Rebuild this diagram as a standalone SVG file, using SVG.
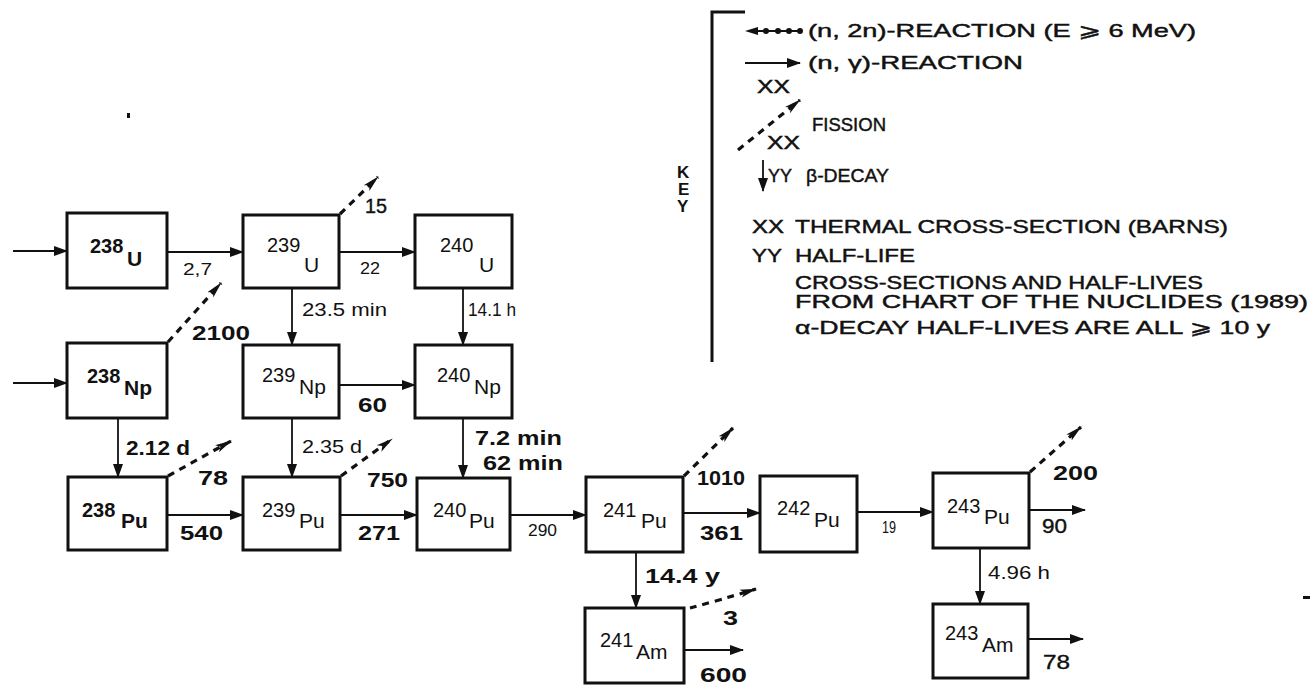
<svg xmlns="http://www.w3.org/2000/svg" width="1314" height="691" viewBox="0 0 1314 691">
<defs>
<marker id="ah" markerUnits="userSpaceOnUse" markerWidth="14" markerHeight="10" refX="13" refY="5" orient="auto"><path d="M0,0 L14,5 L0,10 z" fill="#111"/></marker>
<marker id="fh" markerUnits="userSpaceOnUse" markerWidth="18" markerHeight="10" refX="16" refY="5" orient="auto"><path d="M0,1 L17,5 L0,9 L4,5 z" fill="#111"/></marker>
<style>
text{font-family:"Liberation Sans","DejaVu Sans",Arial,sans-serif;fill:#111}
.box{fill:#fff;stroke:#111;stroke-width:3}
.c{stroke:#111;stroke-width:1.8;fill:none;marker-end:url(#ah)}
.f{stroke:#111;stroke-width:3.2;stroke-dasharray:7 6;fill:none;marker-end:url(#fh)}
.num{font-size:20px}
.el{font-size:21px}
.s{font-size:16px}
.b{font-size:20px;font-weight:bold}
.r{font-size:20px;font-weight:normal;stroke:#111;stroke-width:0.4}
.m{font-size:18px}
.k{font-size:19px;stroke:#111;stroke-width:0.45}
</style>
</defs>
<rect width="1314" height="691" fill="#fff"/>

<g id="connectors">
<line class="c" x1="13" y1="251" x2="67" y2="251"/>
<line class="c" x1="13" y1="383" x2="67" y2="383"/>
<line class="c" x1="167" y1="252" x2="243" y2="252"/>
<line class="c" x1="339" y1="252" x2="415" y2="252"/>
<line class="c" x1="292" y1="288" x2="292" y2="345"/>
<line class="c" x1="463" y1="288" x2="463" y2="345"/>
<line class="c" x1="339" y1="385" x2="415" y2="385"/>
<line class="c" x1="118" y1="418" x2="118" y2="477"/>
<line class="c" x1="292" y1="418" x2="292" y2="477"/>
<line class="c" x1="463" y1="418" x2="463" y2="478"/>
<line class="c" x1="167" y1="515" x2="243" y2="515"/>
<line class="c" x1="340" y1="515" x2="417" y2="515"/>
<line class="c" x1="510" y1="515" x2="586" y2="515"/>
<line class="c" x1="683" y1="513" x2="760" y2="513"/>
<line class="c" x1="857" y1="512" x2="933" y2="512"/>
<line class="c" x1="1029" y1="510" x2="1085" y2="510"/>
<line class="c" x1="636" y1="552" x2="636" y2="608"/>
<line class="c" x1="980" y1="548" x2="980" y2="604"/>
<line class="c" x1="684" y1="650" x2="743" y2="650"/>
<line class="c" x1="1028" y1="639" x2="1083" y2="639"/>
<line class="f" x1="340" y1="214" x2="378" y2="177"/>
<line class="f" x1="168" y1="342" x2="221" y2="283"/>
<line class="f" x1="168" y1="476" x2="231" y2="441"/>
<line class="f" x1="341" y1="476" x2="392" y2="439"/>
<line class="f" x1="684" y1="476" x2="733" y2="428"/>
<line class="f" x1="1030" y1="472" x2="1081" y2="427"/>
<path class="f" d="M690,608 Q720,600 756,589"/>
<text class="s" x="183" y="275" textLength="29" lengthAdjust="spacingAndGlyphs">2,7</text>
<text class="r" x="365" y="213" textLength="22" lengthAdjust="spacingAndGlyphs">15</text>
<text class="s" x="360" y="274" textLength="20" lengthAdjust="spacingAndGlyphs">22</text>
<text class="m" x="302" y="316" textLength="85" lengthAdjust="spacingAndGlyphs">23.5 min</text>
<text class="m" x="468" y="316" textLength="48" lengthAdjust="spacingAndGlyphs">14.1 h</text>
<text class="b" x="192" y="340" textLength="58" lengthAdjust="spacingAndGlyphs">2100</text>
<text class="b" x="358" y="412" textLength="29" lengthAdjust="spacingAndGlyphs">60</text>
<text class="b" x="126" y="455" textLength="64" lengthAdjust="spacingAndGlyphs">2.12 d</text>
<text class="b" x="198" y="485" textLength="30" lengthAdjust="spacingAndGlyphs">78</text>
<text class="b" x="180" y="540" textLength="43" lengthAdjust="spacingAndGlyphs">540</text>
<text class="m" x="302" y="453" textLength="60" lengthAdjust="spacingAndGlyphs">2.35 d</text>
<text class="b" x="367" y="487" textLength="41" lengthAdjust="spacingAndGlyphs">750</text>
<text class="b" x="358" y="540" textLength="42" lengthAdjust="spacingAndGlyphs">271</text>
<text class="b" x="475" y="445" textLength="87" lengthAdjust="spacingAndGlyphs">7.2 min</text>
<text class="b" x="483" y="470" textLength="80" lengthAdjust="spacingAndGlyphs">62 min</text>
<text class="s" x="528" y="536" textLength="29" lengthAdjust="spacingAndGlyphs">290</text>
<text class="b" x="697" y="485" textLength="48" lengthAdjust="spacingAndGlyphs">1010</text>
<text class="b" x="700" y="540" textLength="43" lengthAdjust="spacingAndGlyphs">361</text>
<text class="s" x="882" y="533" textLength="14" lengthAdjust="spacingAndGlyphs">19</text>
<text class="b" x="1053" y="480" textLength="45" lengthAdjust="spacingAndGlyphs">200</text>
<text class="r" x="1042" y="533" textLength="25" lengthAdjust="spacingAndGlyphs">90</text>
<text class="b" x="645" y="583" textLength="75" lengthAdjust="spacingAndGlyphs">14.4 y</text>
<text class="b" x="723" y="625" textLength="15" lengthAdjust="spacingAndGlyphs">3</text>
<text class="b" x="700" y="682" textLength="47" lengthAdjust="spacingAndGlyphs">600</text>
<text class="m" x="988" y="579" textLength="62" lengthAdjust="spacingAndGlyphs">4.96 h</text>
<text class="r" x="1043" y="669" textLength="27" lengthAdjust="spacingAndGlyphs">78</text>
</g>

<g id="U238"><rect class="box" x="67" y="213" width="100" height="75"/><text class="num" x="90" y="253" font-weight="bold">238</text><text class="el" x="127" y="266" font-weight="bold">U</text></g>
<g id="U239"><rect class="box" x="243" y="215" width="96" height="73"/><text class="num" x="267" y="252">239</text><text class="el" x="304" y="272">U</text></g>
<g id="U240"><rect class="box" x="415" y="215" width="97" height="73"/><text class="num" x="440" y="252">240</text><text class="el" x="479" y="272">U</text></g>
<g id="Np238"><rect class="box" x="67" y="343" width="100" height="75"/><text class="num" x="87" y="383" font-weight="bold">238</text><text class="el" x="124" y="395" font-weight="bold">Np</text></g>
<g id="Np239"><rect class="box" x="243" y="345" width="96" height="73"/><text class="num" x="262" y="382">239</text><text class="el" x="299" y="394">Np</text></g>
<g id="Np240"><rect class="box" x="415" y="345" width="97" height="73"/><text class="num" x="437" y="382">240</text><text class="el" x="474" y="394">Np</text></g>
<g id="Pu238"><rect class="box" x="68" y="477" width="99" height="73"/><text class="num" x="82" y="517" font-weight="bold">238</text><text class="el" x="121" y="528" font-weight="bold">Pu</text></g>
<g id="Pu239"><rect class="box" x="243" y="477" width="97" height="73"/><text class="num" x="262" y="517">239</text><text class="el" x="299" y="528">Pu</text></g>
<g id="Pu240"><rect class="box" x="417" y="478" width="93" height="72"/><text class="num" x="433" y="517">240</text><text class="el" x="469" y="528">Pu</text></g>
<g id="Pu241"><rect class="box" x="586" y="477" width="97" height="75"/><text class="num" x="603" y="517">241</text><text class="el" x="641" y="528">Pu</text></g>
<g id="Pu242"><rect class="box" x="760" y="476" width="97" height="76"/><text class="num" x="777" y="515">242</text><text class="el" x="814" y="527">Pu</text></g>
<g id="Pu243"><rect class="box" x="933" y="473" width="96" height="75"/><text class="num" x="947" y="513">243</text><text class="el" x="984" y="524">Pu</text></g>
<g id="Am241"><rect class="box" x="585" y="608" width="99" height="75"/><text class="num" x="600" y="647">241</text><text class="el" x="636" y="659">Am</text></g>
<g id="Am243"><rect class="box" x="933" y="604" width="95" height="74"/><text class="num" x="945" y="640">243</text><text class="el" x="982" y="652">Am</text></g>

<g id="key">
<path d="M745,12 L712,12 L712,362" fill="none" stroke="#111" stroke-width="3"/>
<text x="677" y="178" font-size="17" font-weight="bold">K</text>
<text x="678" y="195" font-size="17" font-weight="bold">E</text>
<text x="677" y="212" font-size="17" font-weight="bold">Y</text>
<line x1="750" y1="31" x2="800" y2="31" stroke="#111" stroke-width="1.8"/>
<path d="M745,31 L758,27 L758,35 z" fill="#111"/>
<circle cx="766" cy="31" r="3" fill="#111"/><circle cx="778" cy="31" r="3" fill="#111"/><circle cx="789" cy="31" r="3" fill="#111"/><circle cx="800" cy="31" r="3" fill="#111"/>
<text class="k" x="808" y="37" textLength="388" lengthAdjust="spacingAndGlyphs">(n, 2n)-REACTION (E ⩾ 6 MeV)</text>
<line class="c" x1="745" y1="63" x2="800" y2="63"/>
<text class="k" x="808" y="69" textLength="215" lengthAdjust="spacingAndGlyphs">(n, γ)-REACTION</text>
<text class="k" x="757" y="93" textLength="33" lengthAdjust="spacingAndGlyphs">XX</text>
<line class="f" x1="738" y1="150" x2="800" y2="100"/>
<text class="k" x="812" y="131" textLength="74" lengthAdjust="spacingAndGlyphs">FISSION</text>
<text class="k" x="767" y="149" textLength="33" lengthAdjust="spacingAndGlyphs">XX</text>
<line class="c" x1="763" y1="160" x2="763" y2="191" stroke-width="2.5"/>
<text class="k" x="768" y="182" textLength="24" lengthAdjust="spacingAndGlyphs">YY</text>
<text class="k" x="806" y="182" textLength="83" lengthAdjust="spacingAndGlyphs">β-DECAY</text>
<text class="k" x="752" y="233" textLength="32" lengthAdjust="spacingAndGlyphs">XX</text>
<text class="k" x="795" y="233" textLength="433" lengthAdjust="spacingAndGlyphs">THERMAL CROSS-SECTION (BARNS)</text>
<text class="k" x="752" y="262" textLength="30" lengthAdjust="spacingAndGlyphs">YY</text>
<text class="k" x="795" y="262" textLength="120" lengthAdjust="spacingAndGlyphs">HALF-LIFE</text>
<text class="k" x="795" y="289" textLength="408" lengthAdjust="spacingAndGlyphs">CROSS-SECTIONS AND HALF-LIVES</text>
<text class="k" x="795" y="308" textLength="513" lengthAdjust="spacingAndGlyphs">FROM CHART OF THE NUCLIDES (1989)</text>
<text class="k" x="795" y="334" textLength="475" lengthAdjust="spacingAndGlyphs">α-DECAY HALF-LIVES ARE ALL ⩾ 10 y</text>
</g>
<rect x="127" y="113" width="3" height="5" fill="#111"/>
<rect x="1303" y="596" width="7" height="3" fill="#111"/>
</svg>
